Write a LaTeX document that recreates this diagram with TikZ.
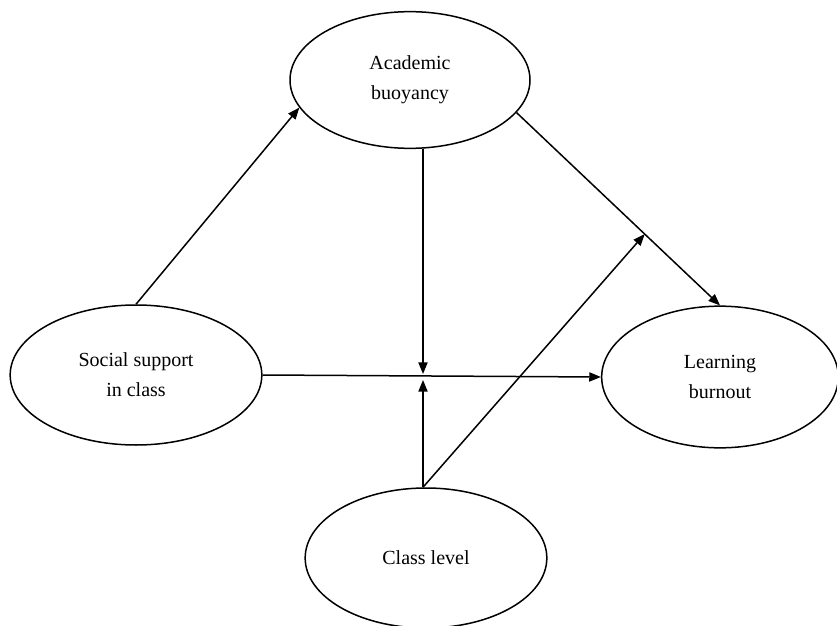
\documentclass[tikz,border=0pt]{standalone}
\usepackage{fontspec}
\setmainfont{Liberation Serif}
\usetikzlibrary{arrows.meta,positioning,calc,shapes.geometric}

\begin{document}
\begin{tikzpicture}[x=0.6pt,y=-0.6pt,
  latent/.style={ellipse,draw,line width=0.9pt,inner sep=0pt,align=center,font=\fontsize{12}{18}\selectfont},
  path/.style={-{Triangle[length=7pt,width=5.5pt]},line width=0.9pt}]
\useasboundingbox (0,0) rectangle (837,626);

% latent variables
\node[latent,minimum width=144pt, minimum height=82pt, name=buoyancy] at (410,80) {Academic\\buoyancy};
\node[latent,minimum width=151pt, minimum height=84pt, name=support] at (136,375) {Social support\\in class};
\node[latent,minimum width=142pt, minimum height=85pt, name=burnout] at (720,377) {Learning\\burnout};
\node[latent,minimum width=145pt, minimum height=84pt, name=level] at (426,558) {Class level};

% points where the moderation arrows end
\coordinate (mtop) at (423,374);
\coordinate (mbot) at (423,380);
\coordinate (hit) at ($(buoyancy.-17)!0.63!(burnout.north)$);

% direct paths
\draw[path] (support.north) -- (buoyancy.194);
\draw[path] (buoyancy.-17) -- (burnout.north);
\draw[path] (support.east) -- (burnout.west);

% moderation by class level
\draw[path] (buoyancy.south -| mtop) -- (mtop);
\draw[path] (level.north -| mbot) -- (mbot);
\draw[path] (level.north -| mbot) -- (hit);
\end{tikzpicture}
\end{document}
